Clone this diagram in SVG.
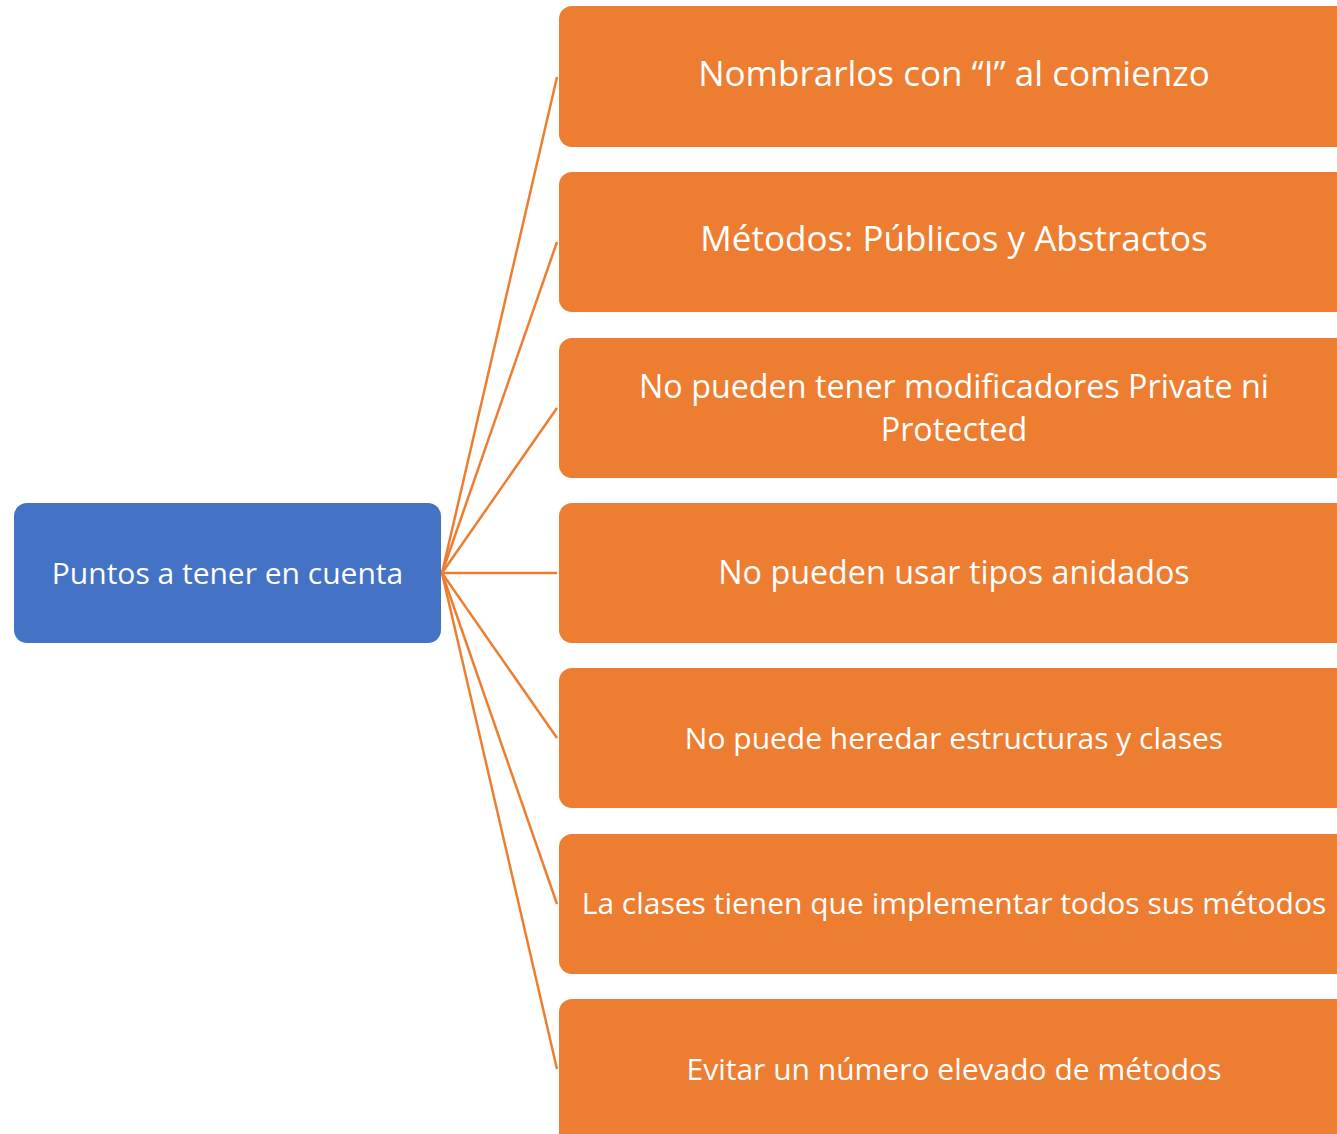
<svg xmlns="http://www.w3.org/2000/svg" width="1337" height="1134" viewBox="0 0 1337 1134">
<style>
.o{fill:#ED7D31}
.b{fill:#4472C4}
text{font-family:"Open Sans","Noto Sans",sans-serif;fill:#fff;text-anchor:middle;dominant-baseline:central}
.l{font-size:35px}
.m{font-size:32.3px}
.s{font-size:30px}
line{stroke:#ED7D31;stroke-width:2.5}
</style>
<rect width="1337" height="1134" fill="#fff"/>
<g id="connectors">
<line x1="442" y1="573" x2="557" y2="77"/>
<line x1="442" y1="573" x2="557" y2="242"/>
<line x1="442" y1="573" x2="557" y2="408"/>
<line x1="442" y1="573" x2="557" y2="573"/>
<line x1="442" y1="573" x2="557" y2="738"/>
<line x1="442" y1="573" x2="557" y2="904"/>
<line x1="442" y1="573" x2="557" y2="1069"/>
</g>
<g id="root"><rect class="b" x="14" y="503" width="427" height="140" rx="13"/><text class="s" x="227.5" y="572">Puntos a tener en cuenta</text></g>
<g id="n1"><rect class="o" x="559" y="6" width="790" height="141" rx="13"/><text class="l" x="954" y="72">Nombrarlos con “I” al comienzo</text></g>
<g id="n2"><rect class="o" x="559" y="172" width="790" height="140" rx="13"/><text class="l" x="954" y="237">Métodos: Públicos y Abstractos</text></g>
<g id="n3"><rect class="o" x="559" y="338" width="790" height="140" rx="13"/><text class="m" x="954" y="385">No pueden tener modificadores Private ni</text><text class="m" x="954" y="428">Protected</text></g>
<g id="n4"><rect class="o" x="559" y="503" width="790" height="140" rx="13"/><text class="m" x="954" y="571">No pueden usar tipos anidados</text></g>
<g id="n5"><rect class="o" x="559" y="668" width="790" height="140" rx="13"/><text class="s" x="954" y="737">No puede heredar estructuras y clases</text></g>
<g id="n6"><rect class="o" x="559" y="834" width="790" height="140" rx="13"/><text class="s" x="954" y="902">La clases tienen que implementar todos sus métodos</text></g>
<g id="n7"><rect class="o" x="559" y="999" width="790" height="150" rx="13"/><text class="s" x="954" y="1068">Evitar un número elevado de métodos</text></g>
</svg>
